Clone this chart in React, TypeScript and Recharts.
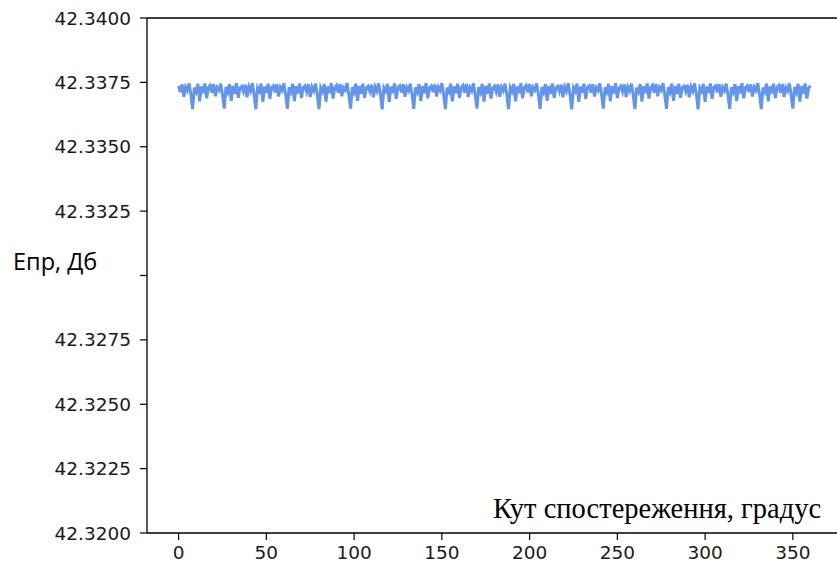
import React from "react";
import { LineChart, Line, XAxis, YAxis, ReferenceLine } from "recharts";

// Observation angle, degrees (one sample per degree, 0..360)
const angleStart = 0;
const angleStep = 1;

// Епр values, dB (one per degree)
const eprValues: number[] = [
  42.33736,42.33712,42.33742,42.33694,42.33732,42.33718,42.33746,42.33704,42.33646,42.33730,42.33714,42.33744,42.33676,42.33734,42.33708,42.33746,42.33688,42.33730,
  42.33738,42.33710,42.33744,42.33696,42.33730,42.33720,42.33745,42.33702,42.33648,42.33732,42.33712,42.33743,42.33678,42.33736,42.33706,42.33747,42.33690,42.33728,
  42.33735,42.33714,42.33741,42.33692,42.33733,42.33716,42.33747,42.33705,42.33645,42.33729,42.33716,42.33745,42.33674,42.33733,42.33709,42.33745,42.33686,42.33731,
  42.33737,42.33711,42.33743,42.33695,42.33731,42.33719,42.33746,42.33703,42.33647,42.33731,42.33713,42.33744,42.33677,42.33735,42.33707,42.33746,42.33689,42.33729,
  42.33736,42.33713,42.33742,42.33693,42.33732,42.33717,42.33745,42.33704,42.33646,42.33730,42.33715,42.33743,42.33675,42.33734,42.33708,42.33747,42.33687,42.33730,
  42.33739,42.33710,42.33744,42.33696,42.33730,42.33720,42.33747,42.33702,42.33648,42.33732,42.33712,42.33745,42.33678,42.33736,42.33706,42.33745,42.33690,42.33728,
  42.33735,42.33714,42.33741,42.33692,42.33733,42.33716,42.33746,42.33705,42.33645,42.33729,42.33716,42.33744,42.33674,42.33733,42.33709,42.33746,42.33686,42.33731,
  42.33737,42.33711,42.33743,42.33694,42.33731,42.33718,42.33745,42.33703,42.33647,42.33731,42.33713,42.33743,42.33677,42.33735,42.33707,42.33747,42.33688,42.33729,
  42.33736,42.33712,42.33742,42.33695,42.33732,42.33719,42.33747,42.33704,42.33646,42.33730,42.33714,42.33745,42.33676,42.33734,42.33708,42.33745,42.33689,42.33730,
  42.33738,42.33710,42.33744,42.33693,42.33730,42.33717,42.33746,42.33702,42.33648,42.33732,42.33712,42.33744,42.33675,42.33736,42.33706,42.33746,42.33687,42.33728,
  42.33736,42.33713,42.33742,42.33694,42.33732,42.33718,42.33745,42.33704,42.33646,42.33730,42.33715,42.33744,42.33676,42.33734,42.33708,42.33747,42.33688,42.33730,
  42.33738,42.33711,42.33744,42.33696,42.33731,42.33720,42.33746,42.33702,42.33647,42.33732,42.33712,42.33743,42.33678,42.33736,42.33706,42.33746,42.33690,42.33729,
  42.33735,42.33714,42.33741,42.33692,42.33733,42.33716,42.33747,42.33705,42.33645,42.33729,42.33716,42.33745,42.33674,42.33733,42.33709,42.33745,42.33686,42.33731,
  42.33737,42.33710,42.33743,42.33695,42.33730,42.33719,42.33746,42.33703,42.33648,42.33731,42.33713,42.33744,42.33677,42.33735,42.33707,42.33747,42.33689,42.33728,
  42.33736,42.33713,42.33742,42.33693,42.33732,42.33717,42.33745,42.33704,42.33646,42.33730,42.33714,42.33743,42.33675,42.33734,42.33708,42.33746,42.33687,42.33730,
  42.33739,42.33710,42.33744,42.33696,42.33731,42.33720,42.33747,42.33702,42.33647,42.33732,42.33712,42.33745,42.33678,42.33736,42.33706,42.33745,42.33690,42.33729,
  42.33735,42.33714,42.33741,42.33692,42.33733,42.33716,42.33746,42.33705,42.33645,42.33729,42.33716,42.33744,42.33674,42.33733,42.33709,42.33746,42.33686,42.33731,
  42.33737,42.33711,42.33743,42.33694,42.33731,42.33718,42.33745,42.33703,42.33647,42.33731,42.33713,42.33743,42.33677,42.33735,42.33707,42.33747,42.33688,42.33729,
  42.33736,42.33712,42.33742,42.33695,42.33732,42.33719,42.33747,42.33704,42.33646,42.33730,42.33714,42.33745,42.33676,42.33734,42.33708,42.33745,42.33689,42.33730,
  42.33738,42.33710,42.33744,42.33693,42.33730,42.33717,42.33746,42.33702,42.33648,42.33732,42.33712,42.33744,42.33675,42.33736,42.33706,42.33746,42.33687,42.33728,
  42.33737,
];

const xTicks = [0, 50, 100, 150, 200, 250, 300, 350];
const yTicks = [42.32, 42.3225, 42.325, 42.3275, 42.33, 42.3325, 42.335, 42.3375, 42.34];
const hiddenYTick = 42.33;

const xLabel = "Кут спостереження, градус";
const yLabel = "Епр, Дб";

const data = eprValues.map((v, i) => ({ angle: angleStart + i * angleStep, value: v }));

const tickFont = "'DejaVu Sans', sans-serif";

const YTick = (props: any) => {
  const { x, y, payload } = props;
  if (Math.abs(payload.value - hiddenYTick) < 1e-9) return <g />;
  return (
    <text x={x} y={y} textAnchor="end" dominantBaseline="central" fontFamily={tickFont} fontSize={18.5} fill="#1a1a1a">
      {payload.value.toFixed(4)}
    </text>
  );
};

const XTick = (props: any) => {
  const { x, y, payload } = props;
  return (
    <text x={x} y={y + 13} textAnchor="middle" fontFamily={tickFont} fontSize={18.5} fill="#1a1a1a">
      {payload.value}
    </text>
  );
};

export default function App() {
  return (
    <div style={{ position: "fixed", left: 0, top: 0, width: 837, height: 562, overflow: "hidden", background: "#fff" }}>
      <LineChart width={900} height={562} data={data} margin={{ top: 18, right: 58, bottom: 0, left: 0 }}>
        <XAxis
          dataKey="angle"
          type="number"
          domain={[-18, 378]}
          ticks={xTicks}
          height={29}
          tickSize={7}
          tickMargin={6}
          tick={<XTick />}
          axisLine={{ stroke: "#000", strokeWidth: 1.3 }}
          tickLine={{ stroke: "#000", strokeWidth: 1.2 }}
          allowDataOverflow
        />
        <YAxis
          type="number"
          domain={[42.32, 42.34]}
          ticks={yTicks}
          width={147}
          tickSize={7}
          tickMargin={9}
          tick={<YTick />}
          axisLine={{ stroke: "#000", strokeWidth: 1.3 }}
          tickLine={{ stroke: "#000", strokeWidth: 1.2 }}
          allowDataOverflow
          interval={0}
        />
        <ReferenceLine y={42.34} stroke="#000" strokeWidth={1.3} ifOverflow="visible" />
        <Line
          type="linear"
          dataKey="value"
          stroke="#6495ED"
          strokeWidth={3}
          dot={false}
          isAnimationActive={false}
        />
      </LineChart>
      <svg width={837} height={562} style={{ position: "absolute", left: 0, top: 0, pointerEvents: "none" }}>
        <text x={13} y={270} fontFamily="'Open Sans', sans-serif" fontSize={23.5} fill="#000">
          {yLabel}
        </text>
        <text x={493} y={518} fontFamily="'Liberation Serif', 'Times New Roman', serif" fontSize={28.5} fill="#000">
          {xLabel}
        </text>
      </svg>
    </div>
  );
}
